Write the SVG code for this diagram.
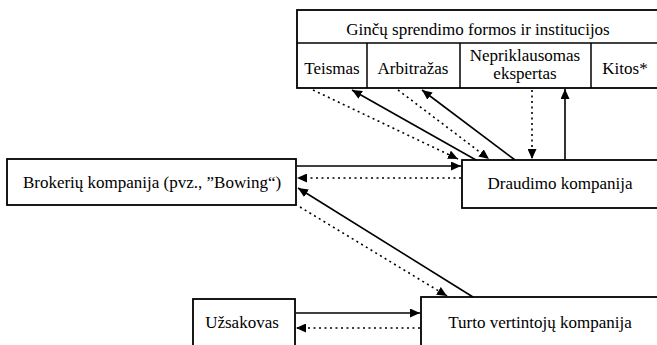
<svg xmlns="http://www.w3.org/2000/svg" width="657" height="345" viewBox="0 0 657 345">
<defs>
<marker id="ah" markerUnits="userSpaceOnUse" markerWidth="10" markerHeight="9" refX="10" refY="4.5" orient="auto" viewBox="0 0 10 9">
<path d="M0,0 L10,4.5 L0,9 z" fill="#000"/>
</marker>
<style>
.box{fill:#fff;stroke:#000;stroke-width:1.8}
.ln{fill:none;stroke:#000;stroke-width:1.5}
.sol{fill:none;stroke:#000;stroke-width:1.6;marker-end:url(#ah)}
.dot{fill:none;stroke:#000;stroke-width:1.6;stroke-dasharray:2 3.5;marker-end:url(#ah)}
.t{font-family:"Liberation Serif","Times New Roman",Times,"DejaVu Serif","Noto Serif",serif;font-size:17px;fill:#000;text-anchor:middle}
</style>
</defs>
<rect width="657" height="345" fill="#fff"/>
<g id="institutions">
<rect class="box" x="297" y="10" width="370" height="78"/>
<line class="ln" x1="297" y1="43" x2="657" y2="43"/>
<line class="ln" x1="367" y1="43" x2="367" y2="88"/>
<line class="ln" x1="460" y1="43" x2="460" y2="88"/>
<line class="ln" x1="591" y1="43" x2="591" y2="88"/>
<text class="t" x="478" y="35">Ginčų sprendimo formos ir institucijos</text>
</g>
<g id="teismas"><text class="t" x="332" y="74">Teismas</text></g>
<g id="arbitrazas"><text class="t" x="413" y="74">Arbitražas</text></g>
<g id="nepriklausomas"><text class="t" x="525" y="61">Nepriklausomas</text><text class="t" x="525" y="79">ekspertas</text></g>
<g id="kitos"><text class="t" x="625" y="74">Kitos*</text></g>
<g id="brokeriu">
<rect class="box" x="7" y="159" width="289" height="46"/>
<text class="t" x="152" y="188">Brokerių kompanija (pvz., ”Bowing“)</text>
</g>
<g id="draudimo">
<rect class="box" x="462" y="160" width="210" height="48"/>
<text class="t" x="560" y="189">Draudimo kompanija</text>
</g>
<g id="uzsakovas">
<rect class="box" x="193" y="299" width="102" height="60"/>
<text class="t" x="242" y="328">Užsakovas</text>
</g>
<g id="turto">
<rect class="box" x="421" y="297" width="250" height="60"/>
<text class="t" x="540" y="328">Turto vertintojų kompanija</text>
</g>
<g id="connectors">
<path class="dot" d="M313,90 L458,159"/>
<path class="sol" d="M476,160 L352,90"/>
<path class="dot" d="M398,90 L489,159"/>
<path class="sol" d="M515,160 L422,90"/>
<path class="dot" d="M532,90 L532,159"/>
<path class="sol" d="M565,160 L565,89"/>
<path class="sol" d="M297,166 L461,166"/>
<path class="dot" d="M461,178 L297,178"/>
<path class="sol" d="M473,297 L298,188"/>
<path class="dot" d="M300,207 L447,296"/>
<path class="sol" d="M296,313 L420,313"/>
<path class="dot" d="M420,328 L296,328"/>
</g>
</svg>
